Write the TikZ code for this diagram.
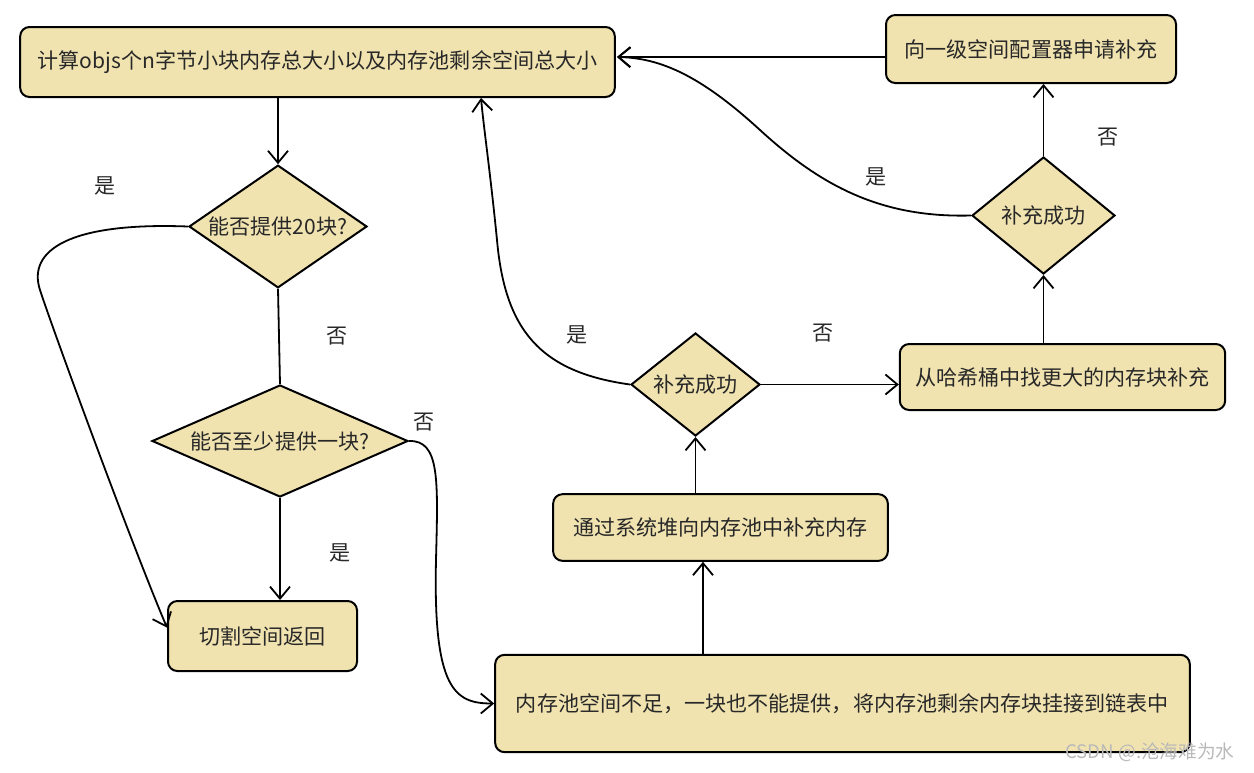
\documentclass[tikz,border=0pt]{standalone}
\usepackage{fontspec}
\setmainfont{Noto Sans CJK SC}
\usetikzlibrary{shapes.geometric,arrows.meta,calc}
\definecolor{boxfill}{RGB}{240,227,176}
\definecolor{txt}{RGB}{40,40,40}
\begin{document}
\begin{tikzpicture}[x=0.75pt,y=-0.75pt,
  font=\fontsize{15.8}{18}\selectfont,
  box/.style={draw=black,line width=1.5pt,fill=boxfill,rounded corners=7pt,text=txt,inner sep=0pt},
  dia/.style={draw=black,line width=1.5pt,fill=boxfill,shape=diamond,text=txt,inner sep=0pt},
  conn/.style={line width=1.35pt,draw=black},
  arr/.style={conn,-{Straight Barb[length=9pt,width=15pt,line width=1.35pt]}},
  lab/.style={text=txt}]
\useasboundingbox (0,0) rectangle (1254,772);

% nodes
\node[box,minimum width=446pt,minimum height=52.5pt] (A) at (317.5,62) {计算objs个n字节小块内存总大小以及内存池剩余空间总大小};
\node[box,minimum width=217.5pt,minimum height=51pt] (B) at (1031,49) {向一级空间配置器申请补充};
\node[dia,aspect=1.45,minimum width=133.5pt,minimum height=92pt] (D1) at (278,226.5) {能否提供20块?};
\node[dia,aspect=2.3,minimum width=192pt,minimum height=84pt] (D2) at (280,441) {能否至少提供一块?};
\node[box,minimum width=141.75pt,minimum height=52.5pt] (C) at (262.5,636) {切割空间返回};
\node[box,minimum width=521pt,minimum height=73pt] (E) at (842.5,703.5) {内存池空间不足，一块也不能提供，将内存池剩余内存块挂接到链表中};
\node[box,minimum width=251pt,minimum height=50pt] (F) at (720.5,527.5) {通过系统堆向内存池中补充内存};
\node[dia,aspect=1.25,minimum width=96.75pt,minimum height=77.25pt] (D3) at (695.5,384.5) {补充成功};
\node[box,minimum width=244pt,minimum height=49.5pt] (G) at (1062.5,377) {从哈希桶中找更大的内存块补充};
\node[dia,aspect=1.22,minimum width=107.25pt,minimum height=87.75pt] (D4) at (1043.5,215.5) {补充成功};

\coordinate (ain) at (617,57);
\coordinate (abot) at (481,98);
\coordinate (xEF) at (703,0);

% connectors
\draw[arr] (A.south -| D1.north) -- (D1.north);
\draw[arr] (D1.west) .. controls (70,222) and (27,250) .. (40,290) .. controls (53,330) and (130,540) .. (C.175);
\draw[conn] (D1.south) -- (D2.north);
\draw[arr] (D2.south) -- (D2.south |- C.north);
\draw[arr] (D2.east) .. controls (440,440) and (438,480) .. (436,560) .. controls (433,690) and (455,703.5) .. (E.west);
\draw[arr] (E.north -| xEF) -- (F.south -| xEF);
\draw[arr] (F.north -| D3.south) -- (D3.south);
\draw[arr] (D3.east) -- (G.west |- D3.east);
\draw[arr] (D3.west) .. controls (540,372) and (505,330) .. (497,240) .. controls (490,170) and (484,130) .. (abot);
\draw[arr] (G.north -| D4.south) -- (D4.south);
\draw[arr] (D4.north) -- (B.south -| D4.north);
\draw[arr] (D4.west) .. controls (880,218) and (820,185) .. (760,130) .. controls (700,75) and (660,58) .. (ain);
\draw[arr] (B.west |- ain) -- (ain);

% labels
\node[lab] (l1) at (105,186) {是};
\node[lab] (l2) at (337,336) {否};
\node[lab] (l3) at (340,553) {是};
\node[lab] (l4) at (424,422) {否};
\node[lab] (l5) at (577,335) {是};
\node[lab] (l6) at (823,333) {否};
\node[lab] (l7) at (876,177) {是};
\node[lab] (l8) at (1108,137) {否};

\node[text=gray!55,font=\fontsize{14}{16}\selectfont] (wm) at (1150,752) {CSDN @.沧海难为水};
\end{tikzpicture}
\end{document}
